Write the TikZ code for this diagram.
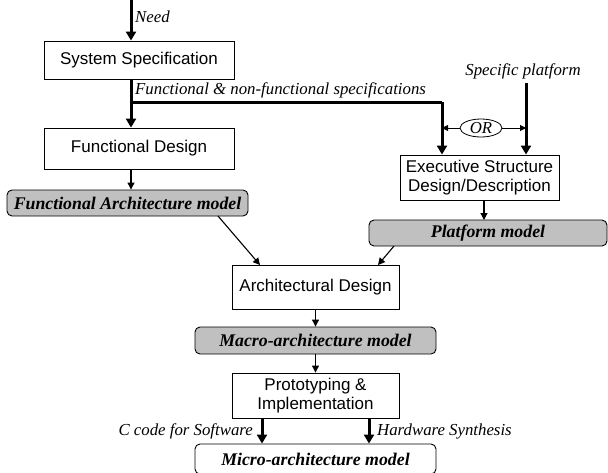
\documentclass[tikz,border=0pt]{standalone}
\usepackage{fontspec}
\setmainfont{Liberation Serif}
\setsansfont{Liberation Sans}
\usetikzlibrary{arrows.meta,shapes.geometric}
\definecolor{modelgray}{RGB}{192,192,192}
\begin{document}
\begin{tikzpicture}[x=1pt,y=-1pt,
  stepbox/.style={draw,line width=0.9pt,fill=white,font=\sffamily\fontsize{17}{19.5}\selectfont,align=center,inner sep=0pt},
  modelbox/.style={draw,line width=0.9pt,rounded corners=5pt,fill=modelgray,font=\bfseries\itshape\fontsize{17.8}{20}\selectfont,inner sep=0pt},
  lbl/.style={font=\itshape\fontsize{16.8}{19}\selectfont,inner sep=0pt},
  thickarr/.style={line width=3pt,-{Triangle[length=9pt,width=10pt]}},
  thickline/.style={line width=3pt},
  thinarr/.style={line width=1.1pt,-{Triangle[length=7pt,width=7pt]}},
  orarr/.style={line width=0.8pt,-{Triangle[length=6pt,width=6pt]}}
]
\useasboundingbox (0,0) rectangle (608,472);
\clip (0,0) rectangle (608,472);

\node[stepbox,minimum width=190pt,minimum height=38pt] (ss) at (139,60) {System Specification};
\node[stepbox,minimum width=190pt,minimum height=41pt] (fd) at (139,148.5) {Functional Design};
\node[modelbox,minimum width=241pt,minimum height=26pt] (fa) at (127.5,203) {Functional Architecture model};
\node[stepbox,minimum width=159pt,minimum height=45pt] (es) at (479.5,177.5) {Executive Structure\\Design/Description};
\node[modelbox,minimum width=238pt,minimum height=26pt] (pm) at (488,233) {Platform model};
\node[stepbox,minimum width=167pt,minimum height=44pt] (ad) at (315.5,287) {Architectural Design};
\node[modelbox,minimum width=241pt,minimum height=27pt] (mm) at (315.5,340.5) {Macro-architecture model};
\node[stepbox,minimum width=167pt,minimum height=45pt] (pi) at (315.5,395.5) {Prototyping \&\\Implementation};
\node[modelbox,fill=white,minimum width=241pt,minimum height=30pt] (mi) at (315.5,459) {Micro-architecture model};
\node[draw,ellipse,line width=0.8pt,minimum width=42pt,minimum height=18pt,inner sep=0pt,font=\itshape\fontsize{16.8}{19}\selectfont] (or) at (481,128) {OR};

% labels
\node[lbl,anchor=west] (lneed) at (135,17) {Need};
\node[lbl,anchor=west] (lspec) at (135,90) {Functional \& non-functional specifications};
\node[lbl] (lplat) at (523,71) {Specific platform};
\node[lbl,anchor=east] (lsw) at (253,431) {C code for Software};
\node[lbl,anchor=west] (lhw) at (377,431) {Hardware Synthesis};

% coordinates
\coordinate (need) at (131,0);
\coordinate (j1) at (131,102);
\coordinate (j2) at (442,102);
\coordinate (sp) at (526,83);
\coordinate (xl) at (262,0);
\coordinate (xr) at (369,0);

% connectors
\draw[thickarr] (need) -- (need |- ss.north);
\draw[thickarr] (j1 |- ss.south) -- (j1 |- fd.north);
\draw[thickline] (j1) -- (j2);
\draw[thickarr] (j2) -- (j2 |- es.north);
\draw[thickarr] (sp) -- (sp |- es.north);
\draw[orarr] (or.west) -- (or.west -| j2);
\draw[orarr] (or.east) -- (or.east -| sp);
\draw[thinarr] (j1 |- fd.south) -- (j1 |- fa.north);
\draw[thinarr] (484,200) -- (484,220);
\draw[thinarr] (218,216) -- (260,265);
\draw[thinarr] (394,246) -- (378,265);
\draw[thinarr] (ad.south) -- (mm.north);
\draw[thinarr] (mm.south) -- (pi.north);
\draw[thickarr] (xl |- pi.south) -- (xl |- mi.north);
\draw[thickarr] (xr |- pi.south) -- (xr |- mi.north);
\end{tikzpicture}
\end{document}
